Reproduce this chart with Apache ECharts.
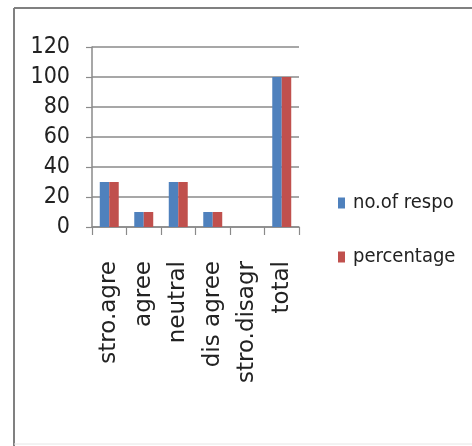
<!DOCTYPE html>
<html>
<head>
<meta charset="utf-8">
<script src="https://cdn.jsdelivr.net/npm/echarts@6/dist/echarts.min.js"></script>
<style>
  html, body { margin: 0; padding: 0; background: #ffffff; }
  #chart { width: 472px; height: 446px; }
</style>
</head>
<body>
<div id="chart"></div>
<script>
// Survey responses by level of agreement
const categories = ['stro.agre', 'agree', 'neutral', 'dis agree', 'stro.disagr', 'total'];
const respondents = [30, 10, 30, 10, 0, 100];
const percentage = [30, 10, 30, 10, 0, 100];
const yTicks = { min: 0, max: 120, interval: 20 };

const condensed = "'Liberation Sans Narrow', 'DejaVu Sans Condensed', 'Liberation Sans', sans-serif";
const gridGray = '#8a8a8a';

const chart = echarts.init(document.getElementById('chart'), null, { renderer: 'canvas' });

// chart frame: top, left and bottom edges (right edge runs off the page)
const frameStyle = { stroke: '#808080', lineWidth: 2 };

chart.setOption({
  backgroundColor: '#ffffff',
  animation: false,
  graphic: [
    { type: 'line', silent: true, shape: { x1: 14, y1: 8, x2: 472, y2: 8 }, style: frameStyle },
    { type: 'line', silent: true, shape: { x1: 14, y1: 8, x2: 14, y2: 446 }, style: frameStyle },
    { type: 'line', silent: true, shape: { x1: 14, y1: 444, x2: 472, y2: 444 }, style: { stroke: '#e6e6e6', lineWidth: 1 } }
  ],
  legend: {
    orient: 'vertical',
    left: 333,
    top: 188,
    itemWidth: 7,
    itemHeight: 11,
    itemGap: 34,
    icon: 'rect',
    textStyle: { fontFamily: condensed, fontSize: 20, color: '#222222', padding: [0, 0, 0, 3] },
    data: ['no.of respo', 'percentage']
  },
  grid: { left: 92, right: 173, top: 47, bottom: 219, containLabel: false },
  xAxis: {
    type: 'category',
    data: categories,
    boundaryGap: true,
    axisLine: { show: true, lineStyle: { color: gridGray, width: 1.5 } },
    axisTick: { show: true, alignWithLabel: false, length: 8, lineStyle: { color: gridGray, width: 1.2 } },
    axisLabel: {
      rotate: 90,
      interval: 0,
      margin: 34,
      fontFamily: 'DejaVu Sans, sans-serif',
      fontSize: 23,
      color: '#222222'
    },
    splitLine: { show: false }
  },
  yAxis: {
    type: 'value',
    min: yTicks.min,
    max: yTicks.max,
    interval: yTicks.interval,
    axisLine: { show: true, lineStyle: { color: gridGray, width: 1.5 } },
    axisTick: { show: true, inside: false, length: 6, lineStyle: { color: gridGray, width: 1.2 } },
    axisLabel: { margin: 22, fontFamily: condensed, fontSize: 23, color: '#222222' },
    splitLine: { show: true, lineStyle: { color: gridGray, width: 1.5 } }
  },
  series: [
    {
      name: 'no.of respo',
      type: 'bar',
      data: respondents,
      itemStyle: { color: '#4F81BD' },
      barGap: '0%',
      barCategoryGap: '45%'
    },
    {
      name: 'percentage',
      type: 'bar',
      data: percentage,
      itemStyle: { color: '#C0504D' },
      barGap: '0%',
      barCategoryGap: '45%'
    }
  ]
});
</script>
</body>
</html>
